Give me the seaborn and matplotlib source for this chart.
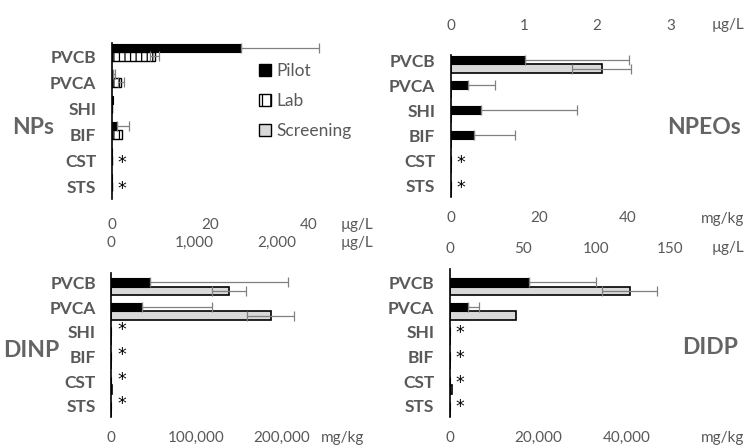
import numpy as np
import pandas as pd
import matplotlib
matplotlib.use("Agg")
import matplotlib.pyplot as plt
import seaborn as sns
from matplotlib.patches import Patch

# ---------------- data ----------------
categories = ["PVCB", "PVCA", "SHI", "BIF", "CST", "STS"]

# NPs (µg/L)
nps_pilot = [26.2, 0.3, 0.35, 1.1, 0, 0]
nps_pilot_err = [15.9, 0.4, 0, 2.4, 0, 0]
nps_lab = [8.7, 1.8, 0.1, 2.0, 0, 0]
nps_lab_err = [0.85, 0.6, 0, 0, 0, 0]
nps_nd = ["CST", "STS"]

# NPEOs: pilot in µg/L, screening in mg/kg
npeo_pilot = [1.01, 0.24, 0.41, 0.32, 0, 0]
npeo_pilot_err = [1.43, 0.36, 1.32, 0.56, 0, 0]
npeo_screen = [34.2, 0, 0, 0, 0, 0]
npeo_screen_err = [6.7, 0, 0, 0, 0, 0]
npeo_nd = ["CST", "STS"]

# DINP: pilot in µg/L, screening in mg/kg
dinp_pilot = [470, 377, 0, 0, 0, 0]
dinp_pilot_err = [1654, 843, 0, 0, 0, 0]
dinp_screen = [138400, 187800, 0, 0, 600, 0]
dinp_screen_err = [20200, 27600, 0, 0, 0, 0]
dinp_nd = ["SHI", "BIF", "CST", "STS"]

# DIDP: pilot in µg/L, screening in mg/kg
didp_pilot = [54, 12.5, 0, 0, 0, 0]
didp_pilot_err = [45.5, 7.5, 0, 0, 0, 0]
didp_screen = [40800, 14950, 0, 0, 450, 0]
didp_screen_err = [6200, 0, 0, 0, 0, 0]
didp_nd = ["SHI", "BIF", "CST", "STS"]

# ---------------- style ----------------
sns.set_theme(style="white")
plt.rcParams["font.family"] = ["Lato", "DejaVu Sans"]
plt.rcParams["hatch.linewidth"] = 0.9
GRAY = "#595959"
TITLE = "#646464"
ERR = "#808080"
TICK_FS = 11
TITLE_FS = 16.5
W, H = 746, 448

fig = plt.figure(figsize=(W / 100, H / 100), dpi=100)


def px_axes(left, top, bottom, width):
    return fig.add_axes([left / W, 1 - bottom / H, width / W, (bottom - top) / H])


STYLE = {
    "pilot": dict(color="black", edgecolor="black", linewidth=0.8),
    "lab": dict(color="white", edgecolor="black", linewidth=1.0, hatch="|||"),
    "screen": dict(color="#d9d9d9", edgecolor="black", linewidth=1.2),
}


def bars(ax, values, errs, offset, height, kind, one_sided=False):
    pos = np.arange(len(categories)) + offset
    df = pd.DataFrame({"pos": pos, "val": values})
    sns.barplot(data=df, x="val", y="pos", orient="h", native_scale=True,
                width=height, errorbar=None, saturation=1, ax=ax,
                **STYLE[kind])
    v = np.asarray(values, float)
    e = np.asarray(errs, float)
    m = e > 0
    if m.any():
        xerr = [np.zeros(m.sum()), e[m]] if one_sided else e[m]
        ax.errorbar(v[m], pos[m], xerr=xerr, fmt="none", ecolor=ERR,
                    elinewidth=0.9, capsize=3.5, capthick=0.9, zorder=5)
    ax.set_xlabel("")
    ax.set_ylabel("")


def style_axis(ax, xlim, ticks, ticklabels, pad):
    ax.set_xlim(*xlim)
    ax.set_xticks(ticks)
    ax.set_xticklabels(ticklabels)
    ax.tick_params(axis="x", length=0, pad=pad, labelsize=TICK_FS, colors=GRAY)
    for s in ax.spines.values():
        s.set_visible(False)


def style_y(ax, ylim):
    ax.set_ylim(*ylim)
    ax.set_yticks(range(len(categories)))
    ax.set_yticklabels(categories, fontweight="bold", fontsize=12.5, color=GRAY)
    ax.tick_params(axis="y", length=0, pad=11)
    ax.spines["left"].set_visible(True)
    ax.spines["left"].set_color("black")
    ax.spines["left"].set_linewidth(1.2)


def asterisks(ax, nd, dy=0):
    # dy in points, positive moves the mark up
    for c in nd:
        ax.annotate("*", xy=(0, categories.index(c)), xycoords=ax.get_yaxis_transform(),
                    xytext=(7.5, dy), textcoords="offset points", ha="center",
                    va="center", fontsize=12.5, color="black", family="DejaVu Sans")


def ftext(x, y, s, **kw):
    fig.text(x / W, 1 - y / H, s, ha="center", va="center", **kw)


# ---------------- NPs ----------------
ax = px_axes(111.7, 43.5, 199.5, 220)
bars(ax, nps_pilot, nps_pilot_err, -0.323, 0.327, "pilot", one_sided=True)
bars(ax, nps_lab, nps_lab_err, 0.0, 0.327, "lab")
style_axis(ax, (0, 44.7), [0, 20, 40], ["0", "20", "40"], 13.5)
style_y(ax, (5.5, -0.5))
asterisks(ax, nps_nd, dy=-2)
ftext(357, 225, "µg/L", fontsize=TICK_FS, color=GRAY)
ftext(33.5, 128, "NPs", fontsize=TITLE_FS, fontweight="bold", color=TITLE)

handles = [Patch(facecolor="black", edgecolor="black", label="Pilot"),
           Patch(facecolor="white", edgecolor="black", hatch="||", label="Lab"),
           Patch(facecolor="#d9d9d9", edgecolor="black", label="Screening")]
fig.legend(handles=handles, loc="upper left", bbox_to_anchor=(259 / W, 1 - 63 / H),
           frameon=False, fontsize=12.5, labelcolor=GRAY, handlelength=0.7,
           handleheight=0.7, handletextpad=0.3, labelspacing=0.8, borderpad=0,
           borderaxespad=0)

# ---------------- NPEOs ----------------
ax = px_axes(450.5, 55, 197.5, 220)
bars(ax, npeo_screen, npeo_screen_err, 0.344, 0.34, "screen")
style_axis(ax, (0, 49.8), [0, 20, 40], ["0", "20", "40"], 10)
axt = ax.twiny()
bars(axt, npeo_pilot, npeo_pilot_err, 0.0, 0.34, "pilot", one_sided=True)
style_axis(axt, (0, 3.0), [0, 1, 2, 3], ["0", "1", "2", "3"], 16)
style_y(ax, (5.5, -0.2))
asterisks(ax, npeo_nd, dy=-2)
ftext(728, 25, "µg/L", fontsize=TICK_FS, color=GRAY)
ftext(723, 219, "mg/kg", fontsize=TICK_FS, color=GRAY)
ftext(704, 128, "NPEOs", fontsize=TITLE_FS, fontweight="bold", color=TITLE)

# ---------------- DINP ----------------
ax = px_axes(111.2, 273, 416.7, 220)
bars(ax, dinp_screen, dinp_screen_err, 0.35, 0.35, "screen")
style_axis(ax, (0, 258800), [0, 100000, 200000], ["0", "100,000", "200,000"], 10)
axt = ax.twiny()
bars(axt, dinp_pilot, dinp_pilot_err, 0.0, 0.35, "pilot", one_sided=True)
style_axis(axt, (0, 2650), [0, 1000, 2000], ["0", "1,000", "2,000"], 16.5)
style_y(ax, (5.44, -0.377))
asterisks(ax, dinp_nd, dy=1)
ftext(357, 243.3, "µg/L", fontsize=TICK_FS, color=GRAY)
ftext(343, 438.3, "mg/kg", fontsize=TICK_FS, color=GRAY)
ftext(31, 350.7, "DINP", fontsize=TITLE_FS, fontweight="bold", color=TITLE)

# ---------------- DIDP ----------------
ax = px_axes(449.7, 269, 416.7, 220)
bars(ax, didp_screen, didp_screen_err, 0.35, 0.35, "screen")
style_axis(ax, (0, 49830), [0, 20000, 40000], ["0", "20,000", "40,000"], 10)
axt = ax.twiny()
bars(axt, didp_pilot, didp_pilot_err, 0.0, 0.35, "pilot", one_sided=True)
style_axis(axt, (0, 150), [0, 50, 100, 150], ["0", "50", "100", "150"], 9.5)
style_y(ax, (5.44, -0.54))
asterisks(ax, didp_nd, dy=-1)
ftext(728, 248.3, "µg/L", fontsize=TICK_FS, color=GRAY)
ftext(723, 438.3, "mg/kg", fontsize=TICK_FS, color=GRAY)
ftext(710, 347, "DIDP", fontsize=TITLE_FS, fontweight="bold", color=TITLE)

fig.savefig("out.png", dpi=100)
